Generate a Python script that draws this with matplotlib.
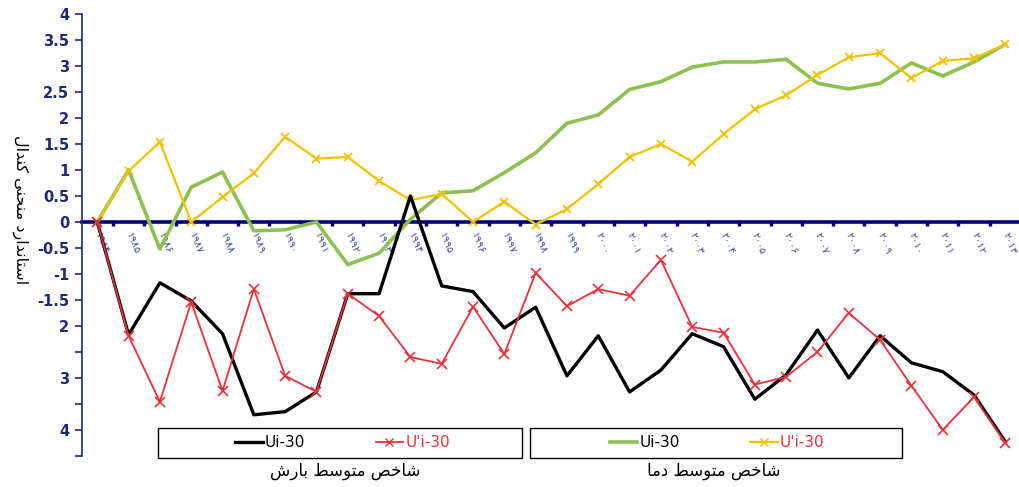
import numpy as np
import matplotlib.pyplot as plt
from matplotlib.lines import Line2D
from matplotlib.patches import Rectangle

# سال‌ها (برچسب محور افقی)
years = ['۱۹۸۴', '۱۹۸۵', '۱۹۸۶', '۱۹۸۷', '۱۹۸۸', '۱۹۸۹', '۱۹۹۰', '۱۹۹۱', '۱۹۹۲', '۱۹۹۳',
         '۱۹۹۴', '۱۹۹۵', '۱۹۹۶', '۱۹۹۷', '۱۹۹۸', '۱۹۹۹', '۲۰۰۰', '۲۰۰۱', '۲۰۰۲', '۲۰۰۳',
         '۲۰۰۴', '۲۰۰۵', '۲۰۰۶', '۲۰۰۷', '۲۰۰۸', '۲۰۰۹', '۲۰۱۰', '۲۰۱۱', '۲۰۱۲', '۲۰۱۳']

# شاخص متوسط دما
temp_u = [0, 1.0, -0.52, 0.67, 0.96, -0.17, -0.15, 0.0, -0.82, -0.6,
          0.05, 0.56, 0.6, 0.95, 1.33, 1.9, 2.06, 2.55, 2.7, 2.98,
          3.08, 3.08, 3.13, 2.67, 2.56, 2.67, 3.06, 2.81, 3.08, 3.42]
temp_up = [0, 0.98, 1.54, 0.0, 0.48, 0.94, 1.64, 1.22, 1.25, 0.79,
           0.42, 0.54, 0.0, 0.39, -0.05, 0.25, 0.73, 1.25, 1.5, 1.16,
           1.69, 2.17, 2.44, 2.83, 3.17, 3.25, 2.77, 3.1, 3.15, 3.42]

# شاخص متوسط بارش
rain_u = [0, -2.17, -1.17, -1.52, -2.15, -3.71, -3.65, -3.27, -1.38, -1.38,
          0.5, -1.23, -1.34, -2.04, -1.64, -2.96, -2.19, -3.27, -2.85, -2.15,
          -2.4, -3.41, -2.94, -2.08, -3.0, -2.19, -2.71, -2.88, -3.33, -4.23]
rain_up = [0, -2.19, -3.46, -1.54, -3.25, -1.29, -2.96, -3.27, -1.38, -1.81,
           -2.6, -2.73, -1.63, -2.54, -0.98, -1.62, -1.29, -1.42, -0.73, -2.02,
           -2.13, -3.13, -2.98, -2.5, -1.75, -2.27, -3.15, -4.0, -3.37, -4.25]

y_ticks = [4, 3.5, 3, 2.5, 2, 1.5, 1, 0.5, 0, -0.5, -1, -1.5, -2, -2.5, -3, -3.5, -4, -4.5]
y_labels = ['4', '3.5', '3', '2.5', '2', '1.5', '1', '0.5', '0', '-0.5', '-1', '-1.5',
            '2', '', '3', '', '4', '']

# شکل‌دهی ساده حروف فارسی (matplotlib خودش اتصال حروف را انجام نمی‌دهد)
FORMS = {
    'ا': ('\uFE8D', '\uFE8E'),
    'ب': ('\uFE8F', '\uFE90', '\uFE91', '\uFE92'),
    'ت': ('\uFE95', '\uFE96', '\uFE97', '\uFE98'),
    'ح': ('\uFEA1', '\uFEA2', '\uFEA3', '\uFEA4'),
    'خ': ('\uFEA5', '\uFEA6', '\uFEA7', '\uFEA8'),
    'د': ('\uFEA9', '\uFEAA'),
    'ر': ('\uFEAD', '\uFEAE'),
    'س': ('\uFEB1', '\uFEB2', '\uFEB3', '\uFEB4'),
    'ش': ('\uFEB5', '\uFEB6', '\uFEB7', '\uFEB8'),
    'ص': ('\uFEB9', '\uFEBA', '\uFEBB', '\uFEBC'),
    'ط': ('\uFEC1', '\uFEC2', '\uFEC3', '\uFEC4'),
    'ل': ('\uFEDD', '\uFEDE', '\uFEDF', '\uFEE0'),
    'م': ('\uFEE1', '\uFEE2', '\uFEE3', '\uFEE4'),
    'ن': ('\uFEE5', '\uFEE6', '\uFEE7', '\uFEE8'),
    'و': ('\uFEED', '\uFEEE'),
    'ی': ('\uFBFC', '\uFBFD', '\uFBFE', '\uFBFF'),
    'ک': ('\uFB8E', '\uFB8F', '\uFB90', '\uFB91'),
}


def shape(s):
    out = []
    for i, c in enumerate(s):
        f = FORMS.get(c)
        if f is None:
            out.append(c)
            continue
        prev = s[i - 1] if i > 0 else ''
        nxt = s[i + 1] if i + 1 < len(s) else ''
        jp = prev in FORMS and len(FORMS[prev]) == 4
        jn = len(f) == 4 and nxt in FORMS
        if jp and jn:
            out.append(f[3])
        elif jp:
            out.append(f[1])
        elif jn:
            out.append(f[2])
        else:
            out.append(f[0])
    return ''.join(out)[::-1]


navy = '#1c2a7a'
green = '#8cc152'
yellow = '#f2c200'
red = '#e8323a'

fig = plt.figure(figsize=(10.2, 4.87), dpi=100)
ax = fig.add_axes([0.08, 0.064, 0.921, 0.907])

x = np.arange(len(years))
ax.plot(x, temp_u, color=green, lw=2.6, zorder=3)
ax.plot(x, temp_up, color=yellow, lw=1.6, marker='x', ms=6, mew=1.3, zorder=4)
ax.plot(x, rain_u, color='black', lw=2.4, zorder=5)
ax.plot(x, rain_up, color=red, lw=1.3, marker='x', ms=7, mew=1.2, zorder=6)

ax.set_xlim(-0.5, len(years) - 0.5)
ax.set_ylim(-4.5, 4)

for s in ['top', 'right']:
    ax.spines[s].set_visible(False)
ax.spines['bottom'].set_position(('data', 0))
ax.spines['bottom'].set_color('#000080')
ax.spines['bottom'].set_linewidth(2.6)
ax.spines['bottom'].set_zorder(2)
ax.spines['left'].set_color(navy)
ax.spines['left'].set_linewidth(1.2)

ax.set_yticks(y_ticks)
ax.set_yticklabels(y_labels, fontweight='bold', color=navy, fontsize=10.5)
ax.tick_params(axis='y', direction='out', length=5, width=1.2, color=navy, pad=4)

ax.set_xticks(x)
ax.set_xticklabels(years, rotation=-68, ha='left', va='center', rotation_mode='anchor',
                   fontsize=7.5, color='#3a4aa0', family='DejaVu Sans')
ax.set_xticks(x[:-1] + 0.5, minor=True)
ax.tick_params(axis='x', which='major', length=0, pad=8)
ax.tick_params(axis='x', which='minor', direction='out', length=3, width=2.5, color='#000080')

fig.text(0.02, 0.57, shape('استاندارد منحنی کندال'), rotation=270, ha='center', va='center',
         fontsize=11.5, color='black')

# راهنما: دو کادر جدا
fig.patches.append(Rectangle((0.155, 0.06), 0.357, 0.062, transform=fig.transFigure,
                             facecolor='white', edgecolor='black', lw=1.0, zorder=8))
fig.patches.append(Rectangle((0.52, 0.06), 0.364, 0.062, transform=fig.transFigure,
                             facecolor='white', edgecolor='black', lw=1.0, zorder=8))

h1 = [Line2D([], [], color='black', lw=2.4),
      Line2D([], [], color=red, lw=1.3, marker='x', ms=6)]
h2 = [Line2D([], [], color=green, lw=2.6),
      Line2D([], [], color=yellow, lw=1.6, marker='x', ms=6)]
leg_kw = dict(ncol=2, frameon=False, handlelength=1.8, handletextpad=0.15,
              columnspacing=4.6, borderaxespad=0, borderpad=0, fontsize=11, loc='center')
leg1 = fig.legend(h1, ['Ui-30', "U'i-30"], bbox_to_anchor=(0.336, 0.091), **leg_kw)
leg2 = fig.legend(h2, ['Ui-30', "U'i-30"], bbox_to_anchor=(0.703, 0.091), **leg_kw)
for lg in (leg1, leg2):
    lg.get_texts()[1].set_color(red)
    lg.set_zorder(10)

fig.text(0.338, 0.033, shape('شاخص متوسط بارش'), ha='center', va='center', fontsize=12)
fig.text(0.70, 0.033, shape('شاخص متوسط دما'), ha='center', va='center', fontsize=12)

fig.savefig('out.png', dpi=100)
